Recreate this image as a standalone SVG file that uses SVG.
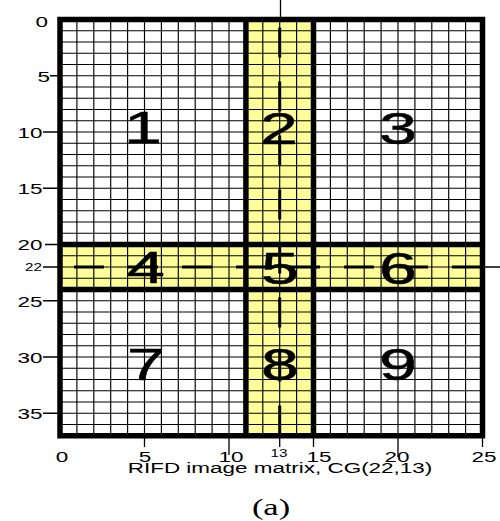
<svg xmlns="http://www.w3.org/2000/svg" width="500" height="521" viewBox="0 0 500 521">
<style>
.ax{font-family:"Liberation Sans",Arial,sans-serif;font-size:15.5px;fill:#000}
.sm{font-family:"Liberation Sans",Arial,sans-serif;font-size:10.5px;fill:#000}
.big{font-family:"Liberation Sans",Arial,sans-serif;font-size:44px;fill:#000;stroke:#000;stroke-width:0.5;text-anchor:middle}
.cap{font-family:"Liberation Serif","Times New Roman",serif;font-size:23px;font-weight:normal;fill:#000;text-anchor:middle}
.grid{stroke:#000;stroke-width:1.15;fill:none}
.thick{stroke:#000;stroke-width:5.5;fill:none}
.tick{stroke:#000;stroke-width:1.3;fill:none}
.dash{stroke:#000;stroke-width:3;fill:none;stroke-dasharray:30 24}
</style>
<rect x="0" y="0" width="500" height="521" fill="#fff"/>
<g id="bands">
<rect x="245.9" y="19.5" width="67.6" height="416.25" fill="#ffff99"/>
<rect x="60" y="244.5" width="422.5" height="45" fill="#ffff99"/>
</g>
<g id="grid">
<path class="grid" d="M76.9 19.5V435.75M93.8 19.5V435.75M110.7 19.5V435.75M127.6 19.5V435.75M144.5 19.5V435.75M161.4 19.5V435.75M178.3 19.5V435.75M195.2 19.5V435.75M212.1 19.5V435.75M229 19.5V435.75M262.8 19.5V435.75M279.7 19.5V435.75M296.6 19.5V435.75M330.4 19.5V435.75M347.3 19.5V435.75M364.2 19.5V435.75M381.1 19.5V435.75M398 19.5V435.75M414.9 19.5V435.75M431.8 19.5V435.75M448.7 19.5V435.75M465.6 19.5V435.75
M60 30.75H482.5M60 42H482.5M60 53.25H482.5M60 64.5H482.5M60 75.75H482.5M60 87H482.5M60 98.25H482.5M60 109.5H482.5M60 120.75H482.5M60 132H482.5M60 143.25H482.5M60 154.5H482.5M60 165.75H482.5M60 177H482.5M60 188.25H482.5M60 199.5H482.5M60 210.75H482.5M60 222H482.5M60 233.25H482.5M60 255.75H482.5M60 267H482.5M60 278.25H482.5M60 300.75H482.5M60 312H482.5M60 323.25H482.5M60 334.5H482.5M60 345.75H482.5M60 357H482.5M60 368.25H482.5M60 379.5H482.5M60 390.75H482.5M60 402H482.5M60 413.25H482.5M60 424.5H482.5"/>
</g>
<g id="center-lines">
<path class="dash" d="M279.7 19.5V435.75" stroke-dashoffset="-8"/>
<path class="dash" d="M60 267H482.5" stroke-dashoffset="-14"/>
<path class="tick" d="M280.5 0V19.5M482.5 267H500"/>
</g>
<g id="dividers">
<path class="thick" d="M245.9 19.5V435.75M313.5 19.5V435.75M60 244.5H482.5M60 289.5H482.5"/>
<rect class="thick" x="60" y="19.5" width="422.5" height="416.25"/>
</g>
<g id="ticks">
<path class="tick" d="M50 75.75H60M43 132H60M43 188.25H60M45 244.5H60M43 267H60M43 300.75H60M43 357H60M43 413.25H60
M144.5 435.75V447M229 435.75V455M279.7 435.75V447M313.5 435.75V447M398 435.75V457M482.5 435.75V447"/>
</g>
<g id="y-labels" class="ax" text-anchor="end">
<text transform="translate(48,26.5) scale(1.45,1)">0</text>
<text transform="translate(50,81.5) scale(1.45,1)">5</text>
<text transform="translate(42.5,137.5) scale(1.45,1)">10</text>
<text transform="translate(42.5,193.5) scale(1.45,1)">15</text>
<text transform="translate(42.5,250) scale(1.45,1)">20</text>
<text class="sm" transform="translate(42,270.5) scale(1.45,1)">22</text>
<text transform="translate(42.5,306.5) scale(1.45,1)">25</text>
<text transform="translate(42.5,362.5) scale(1.45,1)">30</text>
<text transform="translate(42.5,418.5) scale(1.45,1)">35</text>
</g>
<g id="x-labels" class="ax" text-anchor="middle">
<text transform="translate(62,462) scale(1.45,1)">0</text>
<text transform="translate(145,462) scale(1.45,1)">5</text>
<text transform="translate(231,462) scale(1.45,1)">10</text>
<text class="sm" transform="translate(279,457) scale(1.45,1)">13</text>
<text transform="translate(319,462) scale(1.45,1)">15</text>
<text transform="translate(397,462) scale(1.45,1)">20</text>
<text transform="translate(484,462) scale(1.45,1)">25</text>
<text transform="translate(280,472.5) scale(1.45,1)">RIFD image matrix, CG(22,13)</text>
</g>
<g id="region-numbers">
<text class="big" transform="translate(143,143) scale(1.55,1)">1</text>
<text class="big" transform="translate(279,144) scale(1.55,1)">2</text>
<text class="big" transform="translate(398,144) scale(1.55,1)">3</text>
<text class="big" transform="translate(146,283) scale(1.55,1)">4</text>
<text class="big" transform="translate(280,284) scale(1.55,1)">5</text>
<text class="big" transform="translate(398,284) scale(1.55,1)">6</text>
<text class="big" transform="translate(146,380) scale(1.55,1)">7</text>
<text class="big" transform="translate(280,380) scale(1.55,1)">8</text>
<text class="big" transform="translate(398,380) scale(1.55,1)">9</text>
</g>
<text class="cap" transform="translate(271,515) scale(1.5,1)">(a)</text>
</svg>
